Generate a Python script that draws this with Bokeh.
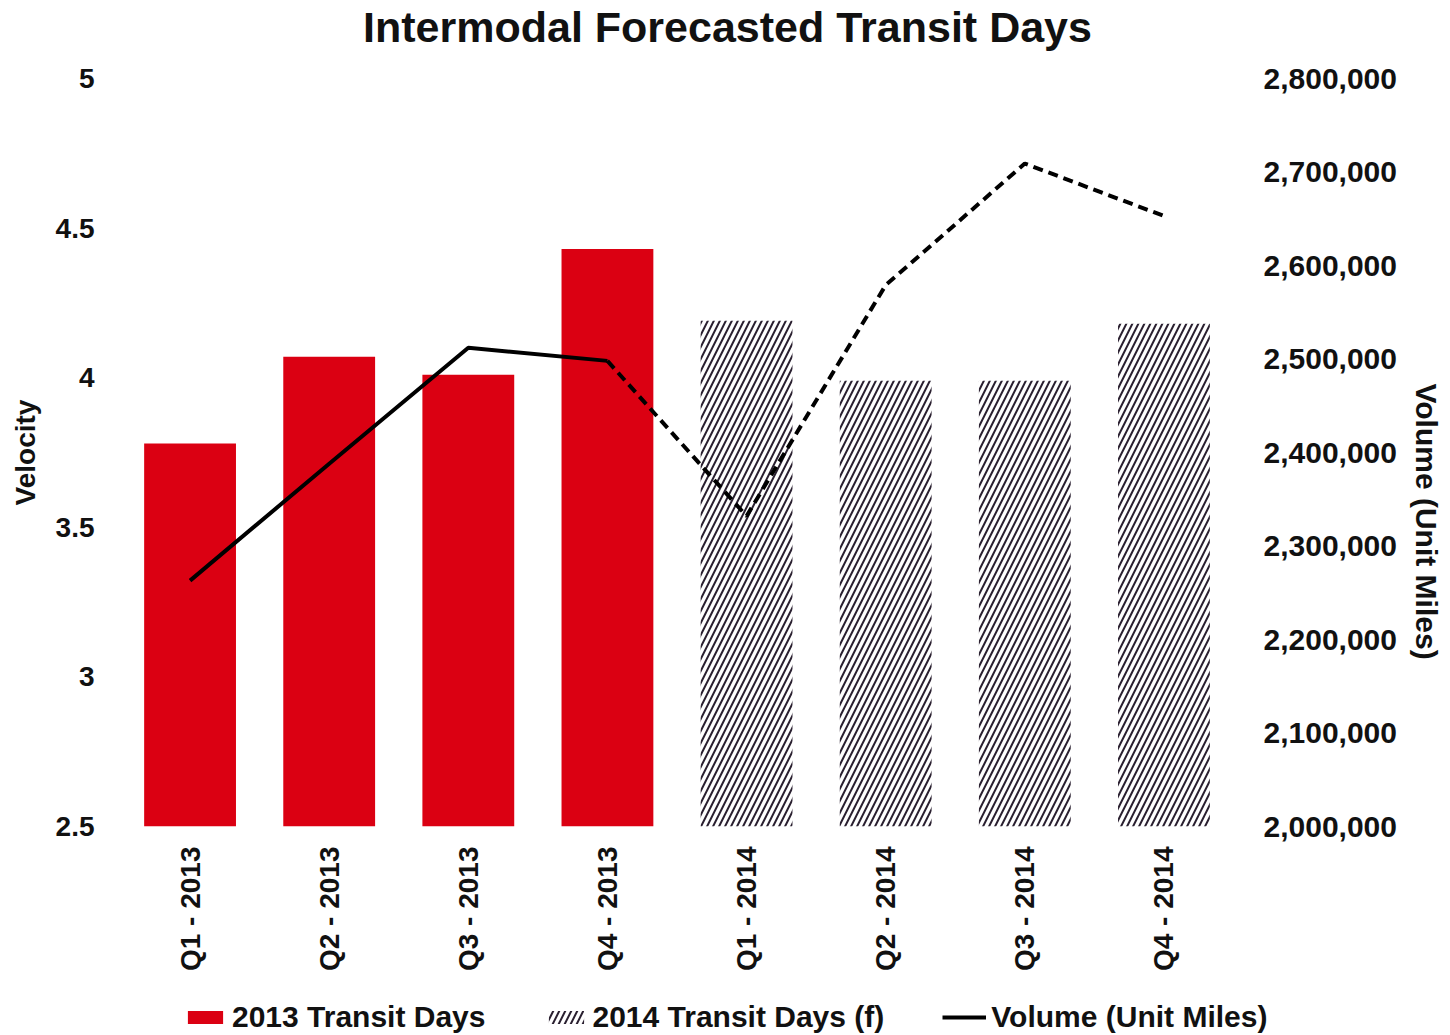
import math

from bokeh.plotting import figure
from bokeh.layouts import column
from bokeh.models import (FactorRange, Range1d, LinearAxis, FixedTicker,
                          NumeralTickFormatter, CustomJSTickFormatter,
                          Legend, LegendItem, Title, Label)
from bokeh.embed import file_html
from bokeh.resources import INLINE

# ---- data -------------------------------------------------------------
quarters_2013 = ["Q1 - 2013", "Q2 - 2013", "Q3 - 2013", "Q4 - 2013"]
quarters_2014 = ["Q1 - 2014", "Q2 - 2014", "Q3 - 2014", "Q4 - 2014"]
quarters = quarters_2013 + quarters_2014

transit_days_2013 = [3.78, 4.07, 4.01, 4.43]
transit_days_2014 = [4.19, 3.99, 3.99, 4.18]

volume_unit_miles = [2263000, 2388000, 2512000, 2498000,
                     2332000, 2579000, 2709000, 2653000]

velocity_ticks = [2.5, 3, 3.5, 4, 4.5, 5]
volume_ticks = [2000000, 2100000, 2200000, 2300000, 2400000,
                2500000, 2600000, 2700000, 2800000]

# ---- styling ----------------------------------------------------------
FONT = "Liberation Sans"
RED = "#db0012"
HATCH = "#2a2030"
INK = "#111111"
W = 1450
HEADER_H = 60
LEGEND_H = 44
MAIN_H = 1035 - HEADER_H - LEGEND_H

bar_style = dict(width=0.66, line_color=None)
red_bar = dict(fill_color=RED)
hatched_bar = dict(fill_color="white", hatch_pattern="/", hatch_color=HATCH,
                   hatch_weight=2, hatch_scale=12)
volume_style = dict(line_color="black", line_width=4)


def strip(height, x_range):
    f = figure(width=W, height=height, output_backend="svg",
               toolbar_location=None, x_axis_type=None, y_axis_type=None,
               x_range=x_range, y_range=Range1d(0, 1), min_border=0)
    f.frame_align = False
    f.outline_line_color = None
    f.grid.visible = False
    return f


# ---- header with the chart title --------------------------------------
header = strip(HEADER_H, Range1d(0, 1))
header.add_layout(Label(x=727, y=HEADER_H - 26, x_units="screen",
                        y_units="screen", text="Intermodal Forecasted Transit Days",
                        text_align="center", text_baseline="middle",
                        text_font=FONT, text_font_size="43px",
                        text_font_style="bold", text_color=INK))

# ---- main chart -------------------------------------------------------
p = figure(width=W, height=MAIN_H, output_backend="svg",
           toolbar_location=None, x_range=FactorRange(*quarters),
           y_range=Range1d(velocity_ticks[0], velocity_ticks[-1]),
           min_border_left=120, min_border_right=210,
           min_border_top=18, min_border_bottom=MAIN_H - 18 - 748)
p.frame_align = False
p.x_range.range_padding = 0
p.outline_line_color = None
p.grid.visible = False

p.extra_y_ranges = {"volume": Range1d(volume_ticks[0], volume_ticks[-1])}

p.vbar(x=quarters_2013, top=transit_days_2013, bottom=velocity_ticks[0],
       **bar_style, **red_bar)
p.vbar(x=quarters_2014, top=transit_days_2014, bottom=velocity_ticks[0],
       **bar_style, **hatched_bar)

# volume: actual quarters solid, forecast quarters dashed
p.line(x=quarters[:4], y=volume_unit_miles[:4], y_range_name="volume",
       **volume_style)
p.line(x=quarters[3:], y=volume_unit_miles[3:], y_range_name="volume",
       line_dash="10 6", **volume_style)


def style_axis(ax, size="28px"):
    ax.axis_line_color = None
    ax.major_tick_line_color = None
    ax.minor_tick_line_color = None
    ax.major_label_text_font = FONT
    ax.major_label_text_font_size = size
    ax.major_label_text_font_style = "bold"
    ax.major_label_text_color = INK
    ax.axis_label_text_font = FONT
    ax.axis_label_text_font_style = "bold"
    ax.axis_label_text_color = INK


ya = p.yaxis[0]
style_axis(ya)
ya.ticker = FixedTicker(ticks=velocity_ticks)
ya.formatter = CustomJSTickFormatter(code="return tick.toString()")
ya.major_label_standoff = 20
ya.axis_label = "Velocity"
ya.axis_label_text_font_size = "28px"
ya.axis_label_standoff = 12

xa = p.xaxis[0]
style_axis(xa)
xa.major_label_orientation = math.pi / 2
xa.major_label_standoff = 14

ra = LinearAxis(y_range_name="volume")
style_axis(ra, "30px")
ra.ticker = FixedTicker(ticks=volume_ticks)
ra.formatter = NumeralTickFormatter(format="0,0")
ra.major_label_standoff = 24
p.add_layout(ra, "right")

p.add_layout(Title(text="Volume (Unit Miles)", align="left", offset=305,
                   vertical_align="top", text_font=FONT,
                   text_font_size="30px", text_font_style="bold",
                   text_color=INK, standoff=16), "right")

# ---- legend strip -----------------------------------------------------
# hidden copies of the series supply the legend keys' styling
key = strip(LEGEND_H, FactorRange(*quarters))
k13 = key.vbar(x=quarters_2013, top=transit_days_2013,
               bottom=velocity_ticks[0], **bar_style, **red_bar)
k14 = key.vbar(x=quarters_2014, top=transit_days_2014,
               bottom=velocity_ticks[0], **bar_style, **hatched_bar)
kvol = key.line(x=quarters[:4], y=volume_unit_miles[:4], **volume_style)
for r in (k13, k14, kvol):
    r.visible = False

legend = Legend(items=[
    LegendItem(label="2013 Transit Days", renderers=[k13]),
    LegendItem(label="2014 Transit Days (f)", renderers=[k14]),
    LegendItem(label="Volume (Unit Miles)", renderers=[kvol]),
], orientation="horizontal", location=(183, 1))
legend.label_text_font = FONT
legend.label_text_font_size = "30px"
legend.label_text_font_style = "bold"
legend.label_text_color = INK
legend.glyph_width = 44
legend.glyph_height = 16
legend.label_standoff = 5
legend.spacing = 58
legend.padding = 0
legend.margin = 0
legend.border_line_color = None
legend.background_fill_alpha = 0
legend.inactive_fill_alpha = 0
key.add_layout(legend, "center")

layout = column(header, p, key, spacing=0)
open("out.html", "w").write(file_html(layout, INLINE))
